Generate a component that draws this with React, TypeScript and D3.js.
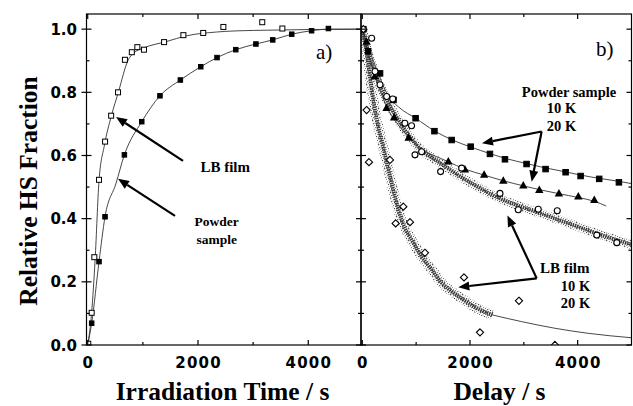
import React from 'react'
import * as d3 from 'd3'

// ---- panel a) irradiation, [time s, fraction]
const lbFilm = [
  [10, 0.004], [72, 0.102], [120, 0.278], [205, 0.523], [315, 0.644], [425, 0.726],
  [550, 0.8], [675, 0.903], [800, 0.927], [900, 0.943], [1020, 0.935], [1385, 0.959],
  [1735, 0.981], [2095, 0.988], [2460, 1.007], [3165, 1.022], [3530, 1.002],
]
const powder = [
  [72, 0.069], [205, 0.264], [314, 0.406], [665, 0.602], [980, 0.707], [1310, 0.789],
  [1680, 0.839], [2050, 0.881], [2345, 0.91], [2685, 0.935], [3050, 0.953], [3355, 0.966],
  [3700, 0.984], [4060, 0.995], [4365, 1.002],
]
const lbFilmFit = [
  [0, 0], [70, 0.1], [134, 0.27], [205, 0.52], [300, 0.63], [430, 0.726], [555, 0.8],
  [736, 0.903], [830, 0.924], [1008, 0.94], [1432, 0.961], [1795, 0.979], [2339, 0.991],
  [3003, 0.996], [4950, 1.0],
]
const powderFit = [
  [0, 0], [72, 0.069], [205, 0.264], [314, 0.406], [510, 0.51], [665, 0.602], [980, 0.707],
  [1310, 0.789], [1680, 0.839], [2050, 0.881], [2345, 0.91], [2685, 0.935], [3050, 0.953],
  [3355, 0.966], [3700, 0.984], [4060, 0.995], [4365, 1.0], [4950, 1.0],
]

// ---- panel b) relaxation, [delay s, fraction]
const powder10 = [
  [20, 1.0], [110, 0.93], [330, 0.86], [580, 0.776], [990, 0.718], [1340, 0.677],
  [1660, 0.649], [2013, 0.628], [2371, 0.605], [2650, 0.588], [3051, 0.573], [3404, 0.557],
  [3776, 0.547], [4055, 0.535], [4400, 0.526], [4766, 0.515],
]
const powder10Fit = [
  [0, 1.0], [100, 0.95], [250, 0.88], [480, 0.79], [700, 0.75], [990, 0.718], [1340, 0.678],
  [1660, 0.65], [2013, 0.627], [2371, 0.606], [2700, 0.589], [3034, 0.575], [3392, 0.561],
  [3751, 0.549], [4055, 0.538], [4427, 0.527], [4772, 0.518], [5000, 0.511],
]
const powder20 = [
  [80, 0.96], [230, 0.85], [450, 0.75], [590, 0.72], [860, 0.656], [1598, 0.581],
  [1907, 0.556], [2263, 0.539], [2619, 0.52], [2990, 0.505], [3287, 0.491], [3652, 0.48],
  [4012, 0.47], [4309, 0.459],
]
const powder20Fit = [
  [0, 1.0], [100, 0.93], [250, 0.845], [450, 0.755], [700, 0.69], [1000, 0.635],
  [1600, 0.58], [1907, 0.557], [2263, 0.538], [2619, 0.52], [2990, 0.504], [3287, 0.492],
  [3652, 0.479], [4012, 0.467], [4309, 0.455], [4530, 0.44],
]
const lb10Band = [
  [0, 1.0], [112, 0.924], [236, 0.861], [421, 0.787], [669, 0.713], [1000, 0.635],
  [1500, 0.57], [2000, 0.515], [2500, 0.468], [3000, 0.435], [3500, 0.405], [4000, 0.375],
  [4500, 0.345], [5000, 0.318],
]
const lb10Circles = [
  [174, 0.971], [236, 0.866], [329, 0.824], [453, 0.787], [565, 0.779], [791, 0.702],
  [915, 0.694], [979, 0.602], [1102, 0.612], [1455, 0.549], [1845, 0.56], [2557, 0.48],
  [2897, 0.428], [3268, 0.43], [3621, 0.425], [4355, 0.348], [4727, 0.324],
]
const lb20Band = [
  [0, 1.0], [112, 0.89], [174, 0.81], [267, 0.715], [390, 0.625], [514, 0.535], [620, 0.46],
  [731, 0.395], [955, 0.322], [1102, 0.28], [1263, 0.245], [1474, 0.197], [1700, 0.165],
  [1883, 0.143], [2192, 0.111], [2420, 0.095],
]
const lb20Fit = [
  [2420, 0.095], [2960, 0.074], [3578, 0.053], [4197, 0.037], [5000, 0.023],
]
const lb20Diamonds = [
  [20, 1.0], [80, 0.744], [124, 0.579], [514, 0.586], [620, 0.385], [762, 0.438],
  [886, 0.389], [1164, 0.292], [1889, 0.214], [2186, 0.04], [2910, 0.14], [3578, 0.0],
]

const yMajor = [0, 0.2, 0.4, 0.6, 0.8, 1.0]
const yMinor = [0.1, 0.3, 0.5, 0.7, 0.9]
const xMajor = [0, 2000, 4000]
const xMinor = [1000, 3000]

const TOP = 14
const BOTTOM = 345
const xa = d3.scaleLinear().domain([-22, 4956]).range([86.5, 361])
const xb = d3.scaleLinear().domain([-24, 5000]).range([361, 631.5])
const y = d3.scaleLinear().domain([0, 1.048]).range([BOTTOM, TOP])

const sans = '"DejaVu Sans", sans-serif'
const serif = '"Liberation Serif", "Times New Roman", serif'

const mkLine = (x) =>
  d3.line().x((d) => x(d[0])).y((d) => y(d[1])).curve(d3.curveMonotoneX)

const Arrow = ({ x1, y1, x2, y2 }) => {
  const a = Math.atan2(y2 - y1, x2 - x1)
  const len = 11
  const w = 4.5
  const bx = x2 - len * Math.cos(a)
  const by = y2 - len * Math.sin(a)
  const nx = -Math.sin(a) * w
  const ny = Math.cos(a) * w
  return (
    <g>
      <line x1={x1} y1={y1} x2={bx} y2={by} stroke="#000" strokeWidth={2.2} />
      <polygon points={`${x2},${y2} ${bx + nx},${by + ny} ${bx - nx},${by - ny}`} fill="#000" />
    </g>
  )
}

const Frame = ({ x, leftOut }) => {
  const [x0, x1] = x.range()
  return (
    <g stroke="#000" strokeWidth={1.2}>
      <rect x={x0} y={TOP} width={x1 - x0} height={BOTTOM - TOP} fill="none" />
      {xMajor.map((t) => (
        <g key={'xm' + t}>
          <line x1={x(t)} x2={x(t)} y1={BOTTOM} y2={BOTTOM - 5} />
          <line x1={x(t)} x2={x(t)} y1={TOP} y2={TOP + 5} />
        </g>
      ))}
      {xMinor.map((t) => (
        <g key={'xn' + t}>
          <line x1={x(t)} x2={x(t)} y1={BOTTOM} y2={BOTTOM - 3} />
          <line x1={x(t)} x2={x(t)} y1={TOP} y2={TOP + 3} />
        </g>
      ))}
      {yMajor.map((v) => (
        <g key={'ym' + v}>
          <line x1={x0 - (leftOut ? 5 : 0)} x2={x0 + 5} y1={y(v)} y2={y(v)} />
          <line x1={x1} x2={x1 - 5} y1={y(v)} y2={y(v)} />
        </g>
      ))}
      {yMinor.map((v) => (
        <g key={'yn' + v}>
          <line x1={x0} x2={x0 + 3} y1={y(v)} y2={y(v)} />
          <line x1={x1} x2={x1 - 3} y1={y(v)} y2={y(v)} />
        </g>
      ))}
    </g>
  )
}

const XLabels = ({ x }) => (
  <g fontFamily={sans} fontWeight="bold" fontSize={15} textAnchor="middle" letterSpacing={1.2}>
    {xMajor.map((t) => (
      <text key={t} x={x(t) + 0.6} y={367.5}>
        {t}
      </text>
    ))}
  </g>
)

export default function App() {
  const la = mkLine(xa)
  const lb = mkLine(xb)
  const sq = (x, d, s, fill) => (
    <rect
      key={d[0] + '-' + d[1]}
      x={x(d[0]) - s / 2}
      y={y(d[1]) - s / 2}
      width={s}
      height={s}
      fill={fill}
      stroke="#000"
      strokeWidth={1}
    />
  )
  const tri = (d) => {
    const cx = xb(d[0])
    const cy = y(d[1])
    return (
      <polygon
        key={d[0]}
        points={`${cx},${cy - 4.5} ${cx - 4.2},${cy + 3} ${cx + 4.2},${cy + 3}`}
        fill="#000"
      />
    )
  }
  const dia = (d) => {
    const cx = xb(d[0])
    const cy = y(d[1])
    return (
      <polygon
        key={d[0]}
        points={`${cx},${cy - 3.6} ${cx + 3.6},${cy} ${cx},${cy + 3.6} ${cx - 3.6},${cy}`}
        fill="#fff"
        stroke="#000"
        strokeWidth={1.1}
      />
    )
  }

  return (
    <svg width={633} height={406} style={{ position: 'absolute', left: 0, top: 0, background: '#fff' }}>
      <defs>
        <pattern id="speck" width="6" height="6" patternUnits="userSpaceOnUse">
          <rect x="0" y="0" width="1.3" height="1.3" fill="#555" />
          <rect x="3" y="1" width="1" height="1" fill="#888" />
          <rect x="1" y="3" width="1.2" height="1.2" fill="#666" />
          <rect x="4" y="4" width="1.1" height="1.1" fill="#444" />
          <rect x="2" y="5" width="1" height="1" fill="#999" />
          <rect x="5" y="2" width="1" height="1" fill="#777" />
          <rect x="4.5" y="0" width="0.9" height="0.9" fill="#aaa" />
          <rect x="0" y="4.6" width="1" height="1" fill="#777" />
          <rect x="2.5" y="2.5" width="1" height="1" fill="#888" />
        </pattern>
        <clipPath id="clipA">
          <rect x={86.5} y={TOP} width={274.5} height={BOTTOM - TOP} />
        </clipPath>
        <clipPath id="clipB">
          <rect x={361} y={TOP} width={270.5} height={BOTTOM - TOP} />
        </clipPath>
      </defs>

      {/* panel a */}
      <g clipPath="url(#clipA)" fill="none">
        <path d={la(lbFilmFit)} stroke="#333" strokeWidth={0.9} fill="none" />
        <path d={la(powderFit)} stroke="#333" strokeWidth={0.9} fill="none" />
        {lbFilm.map((d) => sq(xa, d, 5, '#fff'))}
        {powder.map((d) => sq(xa, d, 4.5, '#000'))}
      </g>

      {/* panel b */}
      <g clipPath="url(#clipB)">
        <path d={lb(lb10Band)} stroke="url(#speck)" strokeWidth={9} fill="none" />
        <path d={lb(lb10Band)} stroke="#3c3c3c" strokeWidth={3.6} strokeDasharray="1.5 0.8" fill="none" />
        <path d={lb(lb20Band)} stroke="url(#speck)" strokeWidth={10} fill="none" />
        <path d={lb(lb20Band)} stroke="#3c3c3c" strokeWidth={3.8} strokeDasharray="1.5 0.8" fill="none" />
        <path d={lb(lb20Fit)} stroke="#333" strokeWidth={0.9} fill="none" />
        <path d={lb(powder10Fit)} stroke="#333" strokeWidth={0.9} fill="none" />
        <path d={lb(powder20Fit)} stroke="#333" strokeWidth={0.9} fill="none" />
        {powder10.map((d) => sq(xb, d, 5.5, '#000'))}
        {powder20.map(tri)}
        {lb10Circles.map((d) => (
          <circle key={d[0]} cx={xb(d[0])} cy={y(d[1])} r={3} fill="#fff" stroke="#000" strokeWidth={1.1} />
        ))}
        {lb20Diamonds.map(dia)}
      </g>

      <Frame x={xa} leftOut />
      <Frame x={xb} leftOut={false} />

      {/* tick labels */}
      <g fontFamily={sans} fontWeight="bold" fontSize={15} textAnchor="end">
        {yMajor.map((v) => (
          <text key={v} x={77} y={y(v) + 5.5}>
            {v.toFixed(1)}
          </text>
        ))}
      </g>
      <XLabels x={xa} />
      <XLabels x={xb} />

      {/* axis titles */}
      <g fontFamily={serif} fontWeight="bold" fontSize={25.5} textAnchor="middle">
        <text transform="translate(37,191) rotate(-90)">Relative HS Fraction</text>
        <text x={222.5} y={400}>Irradiation Time / s</text>
        <text x={499.5} y={400}>Delay / s</text>
      </g>

      {/* panel labels */}
      <g fontFamily={serif} fontSize={21}>
        <text x={316} y={59}>a)</text>
        <text x={596} y={56}>b)</text>
      </g>

      {/* annotations panel a */}
      <Arrow x1={xa(1728)} y1={y(0.583)} x2={xa(513)} y2={y(0.722)} />
      <Arrow x1={xa(1583)} y1={y(0.409)} x2={xa(549)} y2={y(0.526)} />
      <g fontFamily={serif} fontWeight="bold">
        <text x={xa(2493)} y={y(0.548)} fontSize={15} textAnchor="middle">LB film</text>
        <text x={xa(2340)} y={y(0.376)} fontSize={13.5} textAnchor="middle">Powder</text>
        <text x={xa(2340)} y={y(0.32)} fontSize={13.5} textAnchor="middle">sample</text>
      </g>

      {/* annotations panel b */}
      <Arrow x1={xb(3331)} y1={y(0.676)} x2={xb(2223)} y2={y(0.639)} />
      <Arrow x1={xb(3331)} y1={y(0.676)} x2={xb(3146)} y2={y(0.517)} />
      <Arrow x1={xb(3239)} y1={y(0.211)} x2={xb(2696)} y2={y(0.41)} />
      <Arrow x1={xb(3239)} y1={y(0.211)} x2={xb(1783)} y2={y(0.183)} />
      <g fontFamily={serif} fontWeight="bold" fontSize={14.5} textAnchor="middle">
        <text x={xb(3840)} y={y(0.786)}>Powder sample</text>
        <text x={xb(3700)} y={y(0.734)}>10 K</text>
        <text x={xb(3700)} y={y(0.676)}>20 K</text>
        <text x={xb(3760)} y={y(0.229)} fontSize={15}>LB film</text>
        <text x={xb(3960)} y={y(0.172)}>10 K</text>
        <text x={xb(3960)} y={y(0.117)}>20 K</text>
      </g>
    </svg>
  )
}
